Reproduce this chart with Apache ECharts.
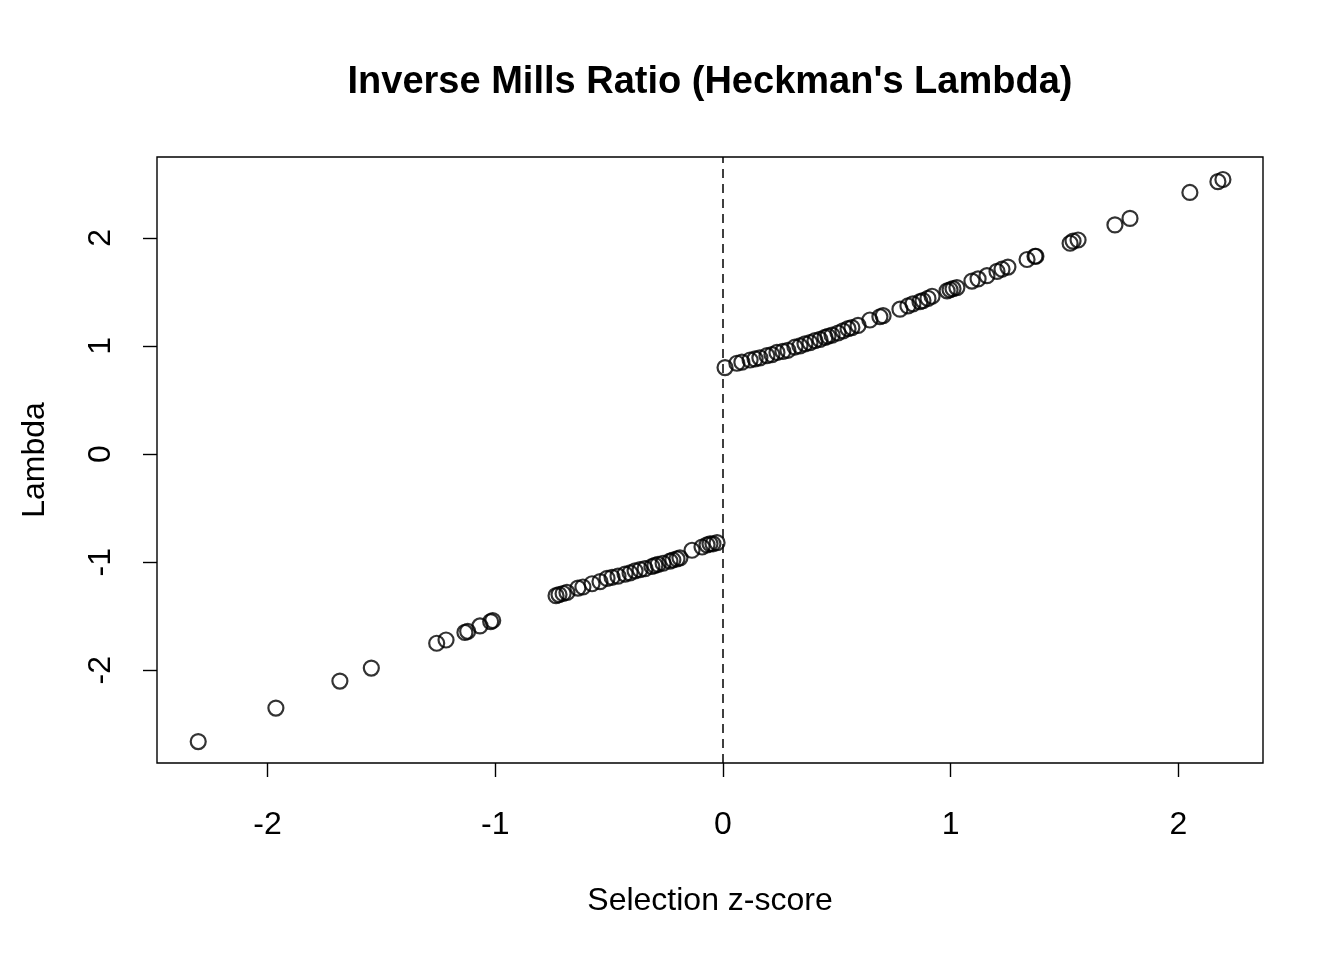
<!DOCTYPE html>
<html>
<head>
<meta charset="utf-8">
<script src="https://cdn.jsdelivr.net/npm/echarts@6/dist/echarts.min.js"></script>
<style>html,body{margin:0;padding:0;background:#fff;}#c{width:1344px;height:960px;}</style>
</head>
<body>
<div id="c"></div>
<script>
const zNeg = [-2.304,-1.963,-1.682,-1.544,-1.257,-1.216,-1.133,-1.121,-1.067,-1.020,-1.011,
  -0.733,-0.720,-0.702,-0.685,-0.637,-0.615,-0.575,-0.540,-0.509,-0.487,-0.461,-0.430,-0.408,-0.386,-0.364,-0.342,-0.312,-0.299,-0.285,-0.263,-0.233,-0.220,-0.202,-0.189,-0.136,-0.092,-0.070,-0.057,-0.044,-0.026];
const lamNeg = [-2.66,-2.35,-2.10,-1.98,-1.75,-1.72,-1.65,-1.64,-1.59,-1.55,-1.54,
  -1.31,-1.30,-1.29,-1.28,-1.24,-1.23,-1.20,-1.18,-1.15,-1.14,-1.13,-1.11,-1.10,-1.08,-1.07,-1.06,-1.04,-1.03,-1.02,-1.01,-0.99,-0.98,-0.97,-0.96,-0.89,-0.86,-0.84,-0.83,-0.83,-0.82];
const zPos = [0.009,0.061,0.083,0.119,0.141,0.162,0.193,0.215,0.237,0.263,0.285,0.316,0.338,0.360,0.382,0.404,0.426,0.448,0.461,0.479,0.505,0.527,0.549,0.566,0.593,0.645,0.689,0.703,0.777,0.812,0.834,0.865,0.878,0.900,0.918,0.984,0.997,1.010,1.027,1.093,1.120,1.159,1.203,1.225,1.251,1.335,1.370,1.374,1.524,1.537,1.559,1.721,1.787,2.050,2.173,2.195];
const lamPos = [0.80,0.84,0.85,0.87,0.88,0.89,0.91,0.92,0.94,0.95,0.96,0.99,1.00,1.02,1.03,1.05,1.06,1.08,1.09,1.10,1.12,1.14,1.16,1.17,1.19,1.24,1.27,1.28,1.34,1.37,1.39,1.41,1.42,1.44,1.46,1.51,1.52,1.53,1.54,1.60,1.62,1.65,1.69,1.71,1.73,1.80,1.83,1.83,1.95,1.97,1.98,2.12,2.18,2.42,2.52,2.54];
const xTicks = [-2,-1,0,1,2];
const yTicks = [-2,-1,0,1,2];
const titleText = "Inverse Mills Ratio (Heckman's Lambda)";
const xLabel = "Selection z-score";
const yLabel = "Lambda";

const pts = [];
zNeg.forEach((z,i)=>pts.push([z, lamNeg[i]]));
zPos.forEach((z,i)=>pts.push([z, lamPos[i]]));

const font = "'Liberation Sans', Arial, Helvetica, sans-serif";
const chart = echarts.init(document.getElementById('c'), null, {renderer:'canvas'});
chart.setOption({
  animation:false,
  backgroundColor:'#fff',
  graphic:[{type:'text',x:710,y:83,
    style:{text:titleText,fontFamily:font,fontSize:38,fontWeight:'bold',fill:'#000',
      align:'center',verticalAlign:'middle'}}],
  grid:{left:157,right:81,top:157,bottom:197,show:true,borderColor:'#000',borderWidth:1.4,backgroundColor:'transparent'},
  xAxis:{type:'value',min:-2.485,max:2.371,
    name:xLabel,nameLocation:'middle',nameGap:122,
    nameTextStyle:{fontFamily:font,fontSize:32,color:'#000'},
    axisLine:{show:false,onZero:false},splitLine:{show:false},
    axisTick:{show:true,length:14,inside:false,customValues:xTicks,lineStyle:{color:'#000',width:1.4}},
    axisLabel:{customValues:xTicks,fontFamily:font,fontSize:32,color:'#000',margin:46,
      formatter:v=>String(v)}},
  yAxis:{type:'value',min:-2.858,max:2.748,
    name:yLabel,nameLocation:'middle',nameGap:106,
    nameTextStyle:{fontFamily:font,fontSize:32,color:'#000'},
    axisLine:{show:false,onZero:false},splitLine:{show:false},
    axisTick:{show:true,length:14,inside:false,customValues:yTicks,lineStyle:{color:'#000',width:1.4}},
    axisLabel:{customValues:yTicks,rotate:90,fontFamily:font,fontSize:32,color:'#000',margin:40,
      formatter:v=>String(v)}},
  series:[{
    type:'scatter',data:pts,symbol:'circle',symbolSize:15,
    itemStyle:{color:'rgba(0,0,0,0)',borderColor:'#000',borderWidth:2.2},
    markLine:{silent:true,symbol:['none','none'],label:{show:false},
      lineStyle:{color:'#000',type:[9,6],width:1.5},
      data:[{xAxis:0}]}
  }]
});
</script>
</body>
</html>
